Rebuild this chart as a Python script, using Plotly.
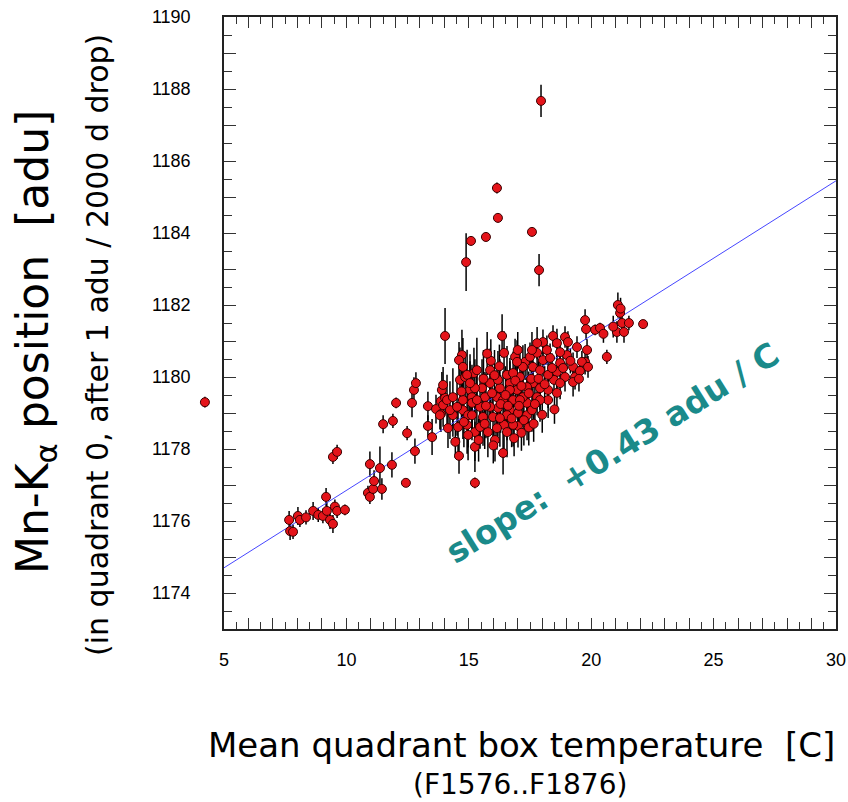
import plotly.graph_objects as go

# ---------------- data ----------------
# cold / low-temperature points and the single point left of the frame
cold_temp = [4.22, 7.66, 7.70, 7.82, 8.02, 8.10, 8.35, 8.64, 8.85, 9.04,
             9.17, 9.20, 9.33, 9.45, 9.53, 9.62, 9.94, 9.45, 9.62, 10.96,
             11.37, 10.88, 10.96, 11.09, 11.13, 11.45, 11.86, 11.50, 11.90, 12.03,
             12.48, 12.43, 12.80, 12.68, 12.76, 12.84, 13.33, 13.33, 13.50, 13.66,
             13.86, 13.95, 13.86, 14.15, 13.82, 14.03, 13.90, 13.95]
cold_pos = [1179.30, 1176.03, 1175.72, 1175.70, 1176.14, 1176.03, 1176.10, 1176.28, 1176.17, 1176.14,
            1176.67, 1176.28, 1176.03, 1175.92, 1176.40, 1176.28, 1176.31, 1177.78, 1177.92, 1177.58,
            1177.47, 1176.78, 1176.67, 1176.89, 1177.11, 1176.89, 1177.56, 1178.69, 1178.78, 1179.28,
            1178.44, 1177.06, 1177.94, 1179.28, 1179.64, 1179.83, 1179.19, 1178.64, 1178.33, 1179.11,
            1179.33, 1179.22, 1178.97, 1178.58, 1178.94, 1179.42, 1179.64, 1179.78]
cold_err = [0.15, 0.25, 0.25, 0.20, 0.25, 0.20, 0.20, 0.25, 0.20, 0.20,
            0.25, 0.25, 0.25, 0.25, 0.20, 0.20, 0.15, 0.20, 0.20, 0.35,
            0.60, 0.20, 0.20, 0.25, 0.30, 0.30, 0.35, 0.25, 0.20, 0.15,
            0.20, 0.10, 0.35, 0.40, 0.35, 0.30, 0.40, 0.30, 0.50, 0.40,
            0.50, 0.60, 0.50, 0.55, 0.40, 0.45, 0.50, 0.50]

# high outliers
high_temp = [14.03, 14.89, 15.09, 15.70, 16.15, 16.19, 17.58, 17.87, 17.95]
high_pos = [1181.14, 1183.19, 1183.78, 1183.89, 1185.25, 1184.42, 1184.03, 1182.97, 1187.67]
high_err = [0.78, 0.80, 0.12, 0.12, 0.15, 0.12, 0.10, 0.45, 0.45]

# main cluster
clust_temp = [14.60, 15.25, 15.25, 16.40, 16.36, 14.72, 14.60, 14.76, 15.21, 15.87,
              16.44, 16.89, 17.30, 17.50, 17.79, 18.03, 18.44, 18.60, 18.93, 19.05,
              19.42, 19.75, 19.79, 20.16, 20.36, 19.83, 19.75, 19.62, 19.87, 19.26,
              19.34, 19.54, 20.64, 21.09, 21.18, 21.26, 21.05, 21.34, 21.54, 22.12,
              19.26, 18.93, 18.60, 18.48, 18.24, 18.24, 17.91, 17.62, 17.79, 17.38,
              17.38, 17.09, 16.97, 16.81, 16.68, 17.01, 17.38, 17.01, 16.44, 16.56,
              16.19, 16.15, 16.27, 15.87, 15.54, 15.66, 15.46, 15.58, 15.78, 16.07,
              15.25, 14.97, 14.93, 14.56, 14.35, 14.23, 14.11, 14.35, 14.64, 14.85,
              15.05, 15.13, 14.76, 14.76, 14.97, 15.13, 15.33, 15.25, 15.33, 15.87,
              15.99, 16.27, 16.15, 16.56, 16.81, 16.40, 16.68, 16.56, 16.81, 17.21,
              17.62, 17.91, 18.03, 18.32, 18.73, 19.01, 17.79, 17.58, 18.19, 18.73,
              18.73, 18.24, 18.60, 17.91, 17.58, 17.21, 17.09, 16.68, 16.19, 16.97,
              14.93, 15.05, 15.13, 15.46, 14.52, 15.60, 15.70, 15.95, 16.05, 16.30,
              16.50, 16.60, 16.75, 16.90, 17.05, 17.15, 17.25, 17.45, 17.55, 17.70,
              17.85, 18.10, 18.40, 18.85, 19.15, 15.40, 15.65, 16.00, 16.85, 17.15,
              17.45, 14.45, 14.80, 15.90, 16.25, 17.00, 20.50, 20.90, 21.20, 18.50,
              18.00, 17.65, 19.50, 15.75, 14.70]
clust_pos = [1177.81, 1178.06, 1177.06, 1177.89, 1181.14, 1180.61, 1180.47, 1180.28, 1180.11, 1180.19,
             1180.67, 1180.56, 1180.42, 1180.56, 1180.67, 1180.97, 1181.14, 1180.94, 1181.11, 1180.97,
             1180.83, 1181.58, 1181.33, 1181.31, 1181.36, 1180.75, 1180.42, 1180.42, 1180.28, 1180.28,
             1180.00, 1180.17, 1180.56, 1182.00, 1181.78, 1181.50, 1181.25, 1181.25, 1181.50, 1181.47,
             1179.86, 1180.00, 1180.14, 1179.92, 1180.06, 1179.64, 1179.69, 1179.83, 1179.44, 1179.28,
             1179.72, 1180.00, 1179.64, 1179.36, 1179.08, 1179.00, 1178.94, 1178.64, 1178.67, 1178.94,
             1179.14, 1179.44, 1179.69, 1179.83, 1179.69, 1179.44, 1179.17, 1178.89, 1178.47, 1178.25,
             1178.47, 1178.39, 1178.67, 1178.61, 1178.94, 1179.08, 1179.36, 1179.44, 1179.92, 1180.00,
             1179.64, 1179.44, 1179.36, 1179.08, 1178.94, 1179.28, 1179.36, 1179.69, 1180.19, 1179.17,
             1178.89, 1178.86, 1178.58, 1178.47, 1178.67, 1179.36, 1179.83, 1180.06, 1180.11, 1180.28,
             1180.28, 1180.19, 1180.47, 1180.53, 1180.39, 1180.61, 1180.94, 1180.75, 1180.75, 1180.69,
             1179.83, 1179.36, 1179.56, 1179.36, 1179.08, 1179.44, 1179.36, 1179.64, 1179.92, 1180.42,
             1180.06, 1179.83, 1178.94, 1178.61, 1179.17, 1179.95, 1179.20, 1179.55, 1180.05, 1179.25,
             1179.50, 1179.20, 1178.85, 1179.90, 1179.20, 1179.75, 1178.80, 1179.55, 1179.95, 1179.25,
             1179.95, 1179.80, 1180.25, 1180.25, 1180.45, 1178.25, 1178.70, 1178.10, 1178.30, 1178.45,
             1178.60, 1178.20, 1178.75, 1180.45, 1180.30, 1180.75, 1181.20, 1181.40, 1181.90, 1179.10,
             1178.95, 1178.70, 1179.95, 1180.65, 1179.60]
clust_err = [0.50, 0.70, 0.15, 0.60, 0.60, 0.70, 0.50, 0.80, 0.70, 0.60,
             0.60, 0.50, 0.50, 0.40, 0.40, 0.35, 0.30, 0.40, 0.30, 0.30,
             0.30, 0.30, 0.30, 0.15, 0.15, 0.30, 0.35, 0.30, 0.30, 0.40,
             0.35, 0.30, 0.20, 0.35, 0.30, 0.35, 0.30, 0.30, 0.20, 0.10,
             0.40, 0.40, 0.45, 0.40, 0.50, 0.50, 0.60, 0.60, 0.50, 0.70,
             0.60, 0.70, 0.70, 0.80, 0.70, 0.60, 0.70, 0.60, 0.90, 0.70,
             0.80, 0.90, 0.80, 0.90, 0.80, 0.70, 0.90, 0.80, 0.70, 0.60,
             0.80, 0.70, 0.80, 0.70, 0.60, 0.80, 0.70, 0.80, 0.90, 0.70,
             0.80, 0.90, 0.70, 0.80, 0.90, 0.80, 0.90, 0.80, 0.90, 0.80,
             0.70, 0.80, 0.60, 0.70, 0.60, 0.80, 0.70, 0.80, 0.60, 0.60,
             0.50, 0.50, 0.45, 0.40, 0.40, 0.35, 0.45, 0.50, 0.40, 0.35,
             0.45, 0.50, 0.40, 0.60, 0.60, 0.70, 0.70, 0.80, 0.80, 0.60,
             0.70, 0.80, 0.70, 0.60, 0.80, 0.80, 0.90, 0.80, 0.70, 0.80,
             0.80, 0.70, 0.80, 0.70, 0.70, 0.60, 0.70, 0.60, 0.50, 0.60,
             0.50, 0.50, 0.40, 0.35, 0.35, 0.60, 0.70, 0.50, 0.50, 0.50,
             0.50, 0.45, 0.70, 0.60, 0.60, 0.50, 0.25, 0.30, 0.30, 0.40,
             0.50, 0.50, 0.35, 0.60, 0.80]

# linear fit
fit_slope = 0.43
fit_intercept = 1172.55
fit_temp = [5.0, 30.0]

X_RANGE = [5, 30]
Y_RANGE = [1173, 1190]

temp = cold_temp + high_temp + clust_temp
pos = cold_pos + high_pos + clust_pos
err = cold_err + high_err + clust_err
fit_pos = [fit_intercept + fit_slope * t for t in fit_temp]

# points inside the frame vs. points left of the frame (drawn on an extended axis)
inside = [i for i, t in enumerate(temp) if t >= X_RANGE[0]]
outside = [i for i, t in enumerate(temp) if t < X_RANGE[0]]

x_tickvals = list(range(5, 31))
x_ticktext = [str(v) if v % 5 == 0 else "" for v in x_tickvals]
y_tickvals = list(range(1173, 1191))
y_ticktext = [str(v) if v % 2 == 0 else "" for v in y_tickvals]

TITLE_FONT = "DejaVu Sans, sans-serif"
TICK_FONT = "Liberation Sans, Arial, sans-serif"

W, H = 848, 802
L, R, T, B = 190, 12, 17, 173
FRAME_L = 224                      # pixel of the left frame line
pw, ph = W - L - R, H - T - B
frame_w = W - R - FRAME_L
x_dom0 = (FRAME_L - L) / pw
x2_left = X_RANGE[0] - (FRAME_L - L) * (X_RANGE[1] - X_RANGE[0]) / frame_w

marker_style = dict(size=9, color="#e4141a", line=dict(color="#3a0000", width=1))
bar_style = dict(type="data", visible=True, color="black", thickness=1.5, width=0)

fig = go.Figure()
# error bars (below everything)
fig.add_trace(go.Scatter(
    x=[temp[i] for i in inside], y=[pos[i] for i in inside], mode="markers",
    marker=dict(size=1, color="rgba(0,0,0,0)"),
    error_y=dict(array=[err[i] for i in inside], **bar_style),
    hoverinfo="skip", showlegend=False))
# fit line
fig.add_trace(go.Scatter(
    x=fit_temp, y=fit_pos, mode="lines",
    line=dict(color="#4646ff", width=1), showlegend=False))
# markers
fig.add_trace(go.Scatter(
    x=[temp[i] for i in inside], y=[pos[i] for i in inside], mode="markers",
    marker=marker_style, showlegend=False))
# point(s) left of the frame
fig.add_trace(go.Scatter(
    x=[temp[i] for i in outside], y=[pos[i] for i in outside], mode="markers",
    marker=marker_style,
    error_y=dict(array=[err[i] for i in outside], **bar_style),
    xaxis="x2", yaxis="y2", showlegend=False))

fig.update_layout(
    xaxis=dict(
        domain=[x_dom0, 1], range=X_RANGE, tickmode="array", tickvals=x_tickvals, ticktext=x_ticktext,
        ticks="inside", ticklen=11, tickwidth=1, tickcolor="#333",
        minor=dict(dtick=0.5, tick0=5, ticks="inside", ticklen=7, tickcolor="#333"),
        showline=True, linecolor="#222", linewidth=1.5, mirror="ticks",
        showgrid=False, zeroline=False,
        tickfont=dict(family=TICK_FONT, size=18, color="black"),
        ticklabelstandoff=14),
    yaxis=dict(
        range=Y_RANGE, tickmode="array", tickvals=y_tickvals, ticktext=y_ticktext,
        ticks="inside", ticklen=12, tickwidth=1, tickcolor="#333",
        minor=dict(dtick=0.5, tick0=1173, ticks="inside", ticklen=8, tickcolor="#333"),
        showline=True, linecolor="#222", linewidth=1.5, mirror="ticks",
        showgrid=False, zeroline=False,
        tickfont=dict(family=TICK_FONT, size=18, color="black"),
        ticklabelstandoff=28),
    xaxis2=dict(domain=[0, 1], range=[x2_left, X_RANGE[1]], anchor="y2", visible=False),
    yaxis2=dict(domain=[0, 1], range=Y_RANGE, anchor="x2", visible=False),
)

def px(xp):
    return (xp - L) / pw

def py(yp):
    return 1 - (yp - T) / ph

fig.add_annotation(text="Mn-K<sub>\u03b1</sub> position \u00a0[adu]", xref="paper", yref="paper",
                   x=px(35), y=py(342), xanchor="center", yanchor="middle", textangle=-90,
                   showarrow=False, font=dict(family=TITLE_FONT, size=44, color="black"))
fig.add_annotation(text="(in quadrant 0, after 1 adu / 2000 d drop)", xref="paper", yref="paper",
                   x=px(97), y=py(345), xanchor="center", yanchor="middle", textangle=-90,
                   showarrow=False, font=dict(family=TITLE_FONT, size=30, color="black"))
fig.add_annotation(text="Mean quadrant box temperature \u00a0[C]", xref="paper", yref="paper",
                   x=px(521), y=py(745), xanchor="center", yanchor="middle",
                   showarrow=False, font=dict(family=TITLE_FONT, size=34, color="black"))
fig.add_annotation(text="(F1576..F1876)", xref="paper", yref="paper",
                   x=px(520), y=py(784), xanchor="center", yanchor="middle",
                   showarrow=False, font=dict(family=TITLE_FONT, size=28, color="black"))
fig.add_annotation(text="<b>slope: \u00a0+0.43 adu / C</b>", xref="x", yref="y",
                   x=20.89, y=1177.89, xanchor="center", yanchor="middle", textangle=-32,
                   showarrow=False, font=dict(family=TITLE_FONT, size=33, color="#1a8a8a"))

fig.update_layout(
    width=W, height=H, margin=dict(l=L, r=R, t=T, b=B, autoexpand=False),
    paper_bgcolor="white", plot_bgcolor="rgba(0,0,0,0)", showlegend=False)

fig.write_html("out.html")
